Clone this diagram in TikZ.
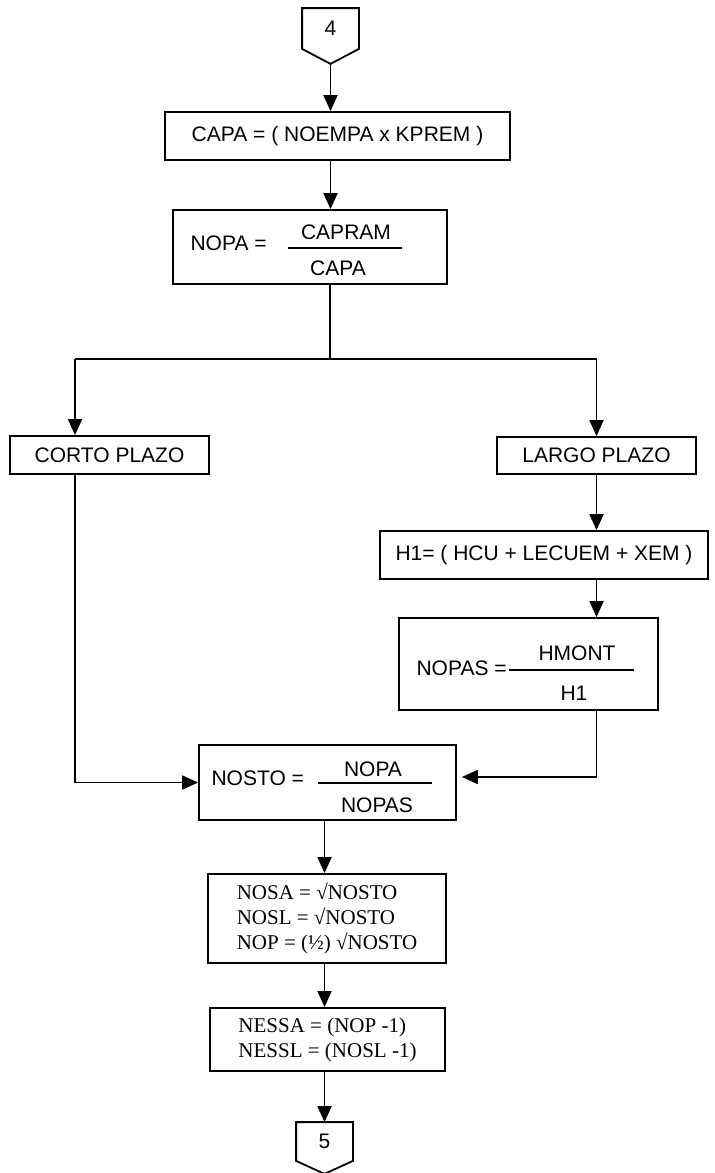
\documentclass[tikz,border=0pt]{standalone}
\usepackage{fontspec}
\setmainfont{Liberation Sans}
\newfontfamily\tmsfont{Liberation Serif}
\usetikzlibrary{arrows.meta}

\begin{document}
\begin{tikzpicture}[x=0.5pt,y=-0.5pt,line width=0.9pt,
  font=\fontsize{10.5}{12.5}\selectfont,
  box/.style={draw,rectangle,inner sep=0pt},
  conn/.style={rectangle,minimum width=27.5pt,inner sep=0pt},
  arr/.style={-{Triangle[length=8pt,width=7pt]}}]
\useasboundingbox (0,0) rectangle (714,1173);
\node[conn,minimum height=19.5pt] (c4) at (330.5,28.5) {4};
\coordinate (c4tip) at ([yshift=-7.5pt]c4.south);
\draw (c4.north west) -- (c4.north east) -- (c4.south east) -- (c4tip) -- (c4.south west) -- cycle;
\node[box,minimum width=172.5pt,minimum height=24pt] (capa) at (337.5,136) {CAPA = ( NOEMPA x KPREM )};
\node[box,minimum width=137pt,minimum height=37pt] (nopa) at (310,247) {};
\node[anchor=west] (nopalbl) at (183,243) {NOPA =};
\node (nopanum) at (346,232) {CAPRAM};
\node (nopaden) at (338,268) {CAPA};
\draw (288,248) -- (402,248);
\coordinate (split) at (330,359);
\coordinate (lft) at (75,359);
\node[box,minimum width=99.5pt,minimum height=19pt] (corto) at (109.5,455) {CORTO PLAZO};
\node[box,minimum width=99.5pt,minimum height=18.5pt] (largo) at (596.5,455.5) {LARGO PLAZO};
\node[box,minimum width=164pt,minimum height=24pt] (h1) at (544,555) {H1= ( HCU + LECUEM + XEM )};
\node[box,minimum width=129.5pt,minimum height=46pt] (nopas) at (528.5,664) {};
\node[anchor=west] (nopaslbl) at (409,668) {NOPAS =};
\node (nopasnum) at (577,653) {HMONT};
\node (nopasden) at (574,693) {H1};
\draw (509,670) -- (634,670);
\node[box,minimum width=128.5pt,minimum height=37.5pt] (nosto) at (327.5,782.5) {};
\node[anchor=west] (nostolbl) at (204,778) {NOSTO =};
\node (nostonum) at (373,769) {NOPA};
\node (nostoden) at (377,805) {NOPAS};
\draw (318,783) -- (432,783);
\node[box,minimum width=119pt,minimum height=44.5pt,align=left,
  font=\tmsfont\fontsize{10.5}{12.5}\selectfont] (nosa) at (327,918.5)
  {NOSA = √NOSTO\\NOSL = √NOSTO\\NOP = (½) √NOSTO};
\node[box,minimum width=117.5pt,minimum height=31.5pt,align=left,
  font=\tmsfont\fontsize{10.5}{12.5}\selectfont] (nessa) at (327.5,1039.5)
  {NESSA = (NOP -1)\\NESSL = (NOSL -1)};
\node[conn,minimum height=18.5pt] (c5) at (324.5,1141.5) {5};
\coordinate (c5tip) at ([yshift=-6.5pt]c5.south);
\draw (c5.north west) -- (c5.north east) -- (c5.south east) -- (c5tip) -- (c5.south west) -- cycle;
\draw[arr] (c4tip) -- (c4tip |- capa.north);
\draw[arr] (capa.south -| c4tip) -- (nopa.north -| c4tip);
\draw (nopa.south -| split) -- (split) -- (lft);
\draw[arr] (lft) -- (lft |- corto.north);
\draw[arr] (split) -| (largo.north);
\draw[arr] (largo.south) -- (largo.south |- h1.north);
\draw[arr] (h1.south -| largo.south) -- (nopas.north -| largo.south);
\draw[arr] (nopas.south -| largo.south) |- ([xshift=2.5pt,yshift=2.75pt]nosto.east);
\draw[arr] (corto.south -| lft) |- (nosto.west);
\draw[arr] (nosto.south -| c5) -- (nosa.north -| c5);
\draw[arr] (nosa.south -| c5) -- (nessa.north -| c5);
\draw[arr] (nessa.south -| c5.north) -- (c5.north);
\end{tikzpicture}
\end{document}
